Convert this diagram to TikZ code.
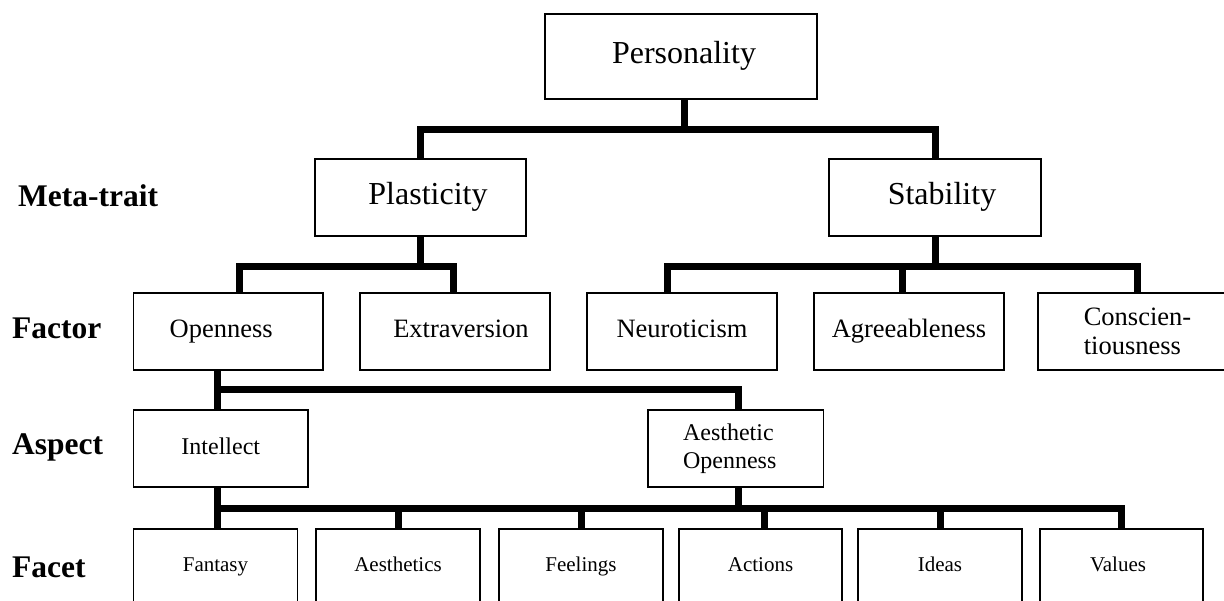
\documentclass[tikz,border=0pt]{standalone}
\usepackage{fontspec}
\setmainfont{Liberation Serif}
\tikzset{
  box/.style={draw, line width=1.8pt, rectangle, inner sep=0pt, minimum height=77pt},
  conn/.style={line width=7pt, line join=miter},
  fone/.style={font=\fontsize{32}{38}\selectfont, text height=21.8pt, text depth=7pt},
  ftwo/.style={font=\fontsize{26.5}{29.2}\selectfont, text height=18pt, text depth=5.8pt},
  ftwom/.style={font=\fontsize{26.5}{29.2}\selectfont, align=left},
  fthree/.style={font=\fontsize{24}{28}\selectfont, text height=16.3pt, text depth=5.3pt},
  fthreem/.style={font=\fontsize{24}{28}\selectfont, align=left},
  ffour/.style={font=\fontsize{21}{25}\selectfont, text height=14.3pt, text depth=4.6pt, minimum height=76pt},
  lvl/.style={font=\bfseries\fontsize{31.5}{36}\selectfont, anchor=base west, inner sep=0pt},
}
\begin{document}
\begin{tikzpicture}[x=1pt,y=-1pt]
\path[use as bounding box] (0,0) rectangle (1224,600);
\clip (0,0) rectangle (1224,600);
% level labels
\node[lvl] (lmeta) at (18,206) {Meta-trait};
\node[lvl] (lfac) at (12,338) {Factor};
\node[lvl] (lasp) at (12,454) {Aspect};
\node[lvl] (lfacet) at (12,577) {Facet};
% boxes
\node[box, fone, minimum width=272pt, minimum height=85pt] (pers) at (681,56.5) {\hspace*{6pt}Personality};
\node[box, fone, minimum width=211pt] (plas) at (420.5,197.5) {\hspace*{15pt}Plasticity};
\node[box, fone, minimum width=212pt] (stab) at (935,197.5) {\hspace*{14pt}Stability};
\node[box, ftwo, minimum width=189.5pt] (open) at (228.25,331.5) {Openness\hspace*{14pt}};
\node[box, ftwo, minimum width=190pt] (extr) at (455,331.5) {\hspace*{12pt}Extraversion};
\node[box, ftwo, minimum width=190.5pt] (neur) at (682,331.5) {Neuroticism};
\node[box, ftwo, minimum width=190pt] (agre) at (909,331.5) {Agreeableness};
\node[box, ftwom, minimum width=199pt] (cons) at (1137.5,331.5) {Conscien-\\tiousness};
\node[box, fthree, minimum width=174.5pt] (intel) at (220.75,448.5) {Intellect};
\node[box, fthreem, minimum width=175.5pt] (aeso) at (735.75,448.5) {Aesthetic\\Openness\hspace*{12pt}};
\node[box, ffour, minimum width=164pt] (fant) at (215.5,567) {Fantasy};
\node[box, ffour, minimum width=164pt] (aest) at (398,567) {Aesthetics};
\node[box, ffour, minimum width=164pt] (feel) at (581,567) {Feelings};
\node[box, ffour, minimum width=163pt] (acti) at (760.5,567) {Actions};
\node[box, ffour, minimum width=164pt] (idea) at (940,567) {Ideas};
\node[box, ffour, minimum width=163pt] (valu) at (1121.5,567) {Values\hspace*{7pt}};
% bar levels
\coordinate (ya) at (0,129.5);
\coordinate (yb) at (0,266);
\coordinate (yc) at (0,389);
\coordinate (yd) at (0,508);
% connectors
\draw[conn] ([xshift=3pt]pers.south) -- ([xshift=3pt]pers.south |- ya);
\draw[conn] (plas.north) -- (plas.north |- ya) -- (stab.north |- ya) -- (stab.north);
\draw[conn] (plas.south) -- (plas.south |- yb);
\draw[conn] ([xshift=10.75pt]open.north) -- ([xshift=10.75pt]open.north |- yb) -- ([xshift=-2pt]extr.north |- yb) -- ([xshift=-2pt]extr.north);
\draw[conn] (stab.south) -- (stab.south |- yb);
\draw[conn] ([xshift=-15pt]neur.north) -- ([xshift=-15pt]neur.north |- yb) -- (cons.north |- yb) -- (cons.north);
\draw[conn] ([xshift=-7pt]agre.north) -- ([xshift=-7pt]agre.north |- yb);
\draw[conn] ([xshift=-10.75pt]open.south) -- ([xshift=-3.25pt]intel.north);
\draw[conn] ([xshift=-10.75pt]open.south |- yc) -- ([xshift=2.75pt]aeso.north |- yc) -- ([xshift=2.75pt]aeso.north);
\draw[conn] ([xshift=-3.25pt]intel.south) -- ([xshift=2pt]fant.north);
\draw[conn] ([xshift=2pt]fant.north |- yd) -- (valu.north |- yd) -- (valu.north);
\draw[conn] ([xshift=2.75pt]aeso.south) -- ([xshift=2.75pt]aeso.south |- yd);
\draw[conn] (aest.north) -- (aest.north |- yd);
\draw[conn] (feel.north) -- (feel.north |- yd);
\draw[conn] ([xshift=3.5pt]acti.north) -- ([xshift=3.5pt]acti.north |- yd);
\draw[conn] (idea.north) -- (idea.north |- yd);
\end{tikzpicture}
\end{document}
